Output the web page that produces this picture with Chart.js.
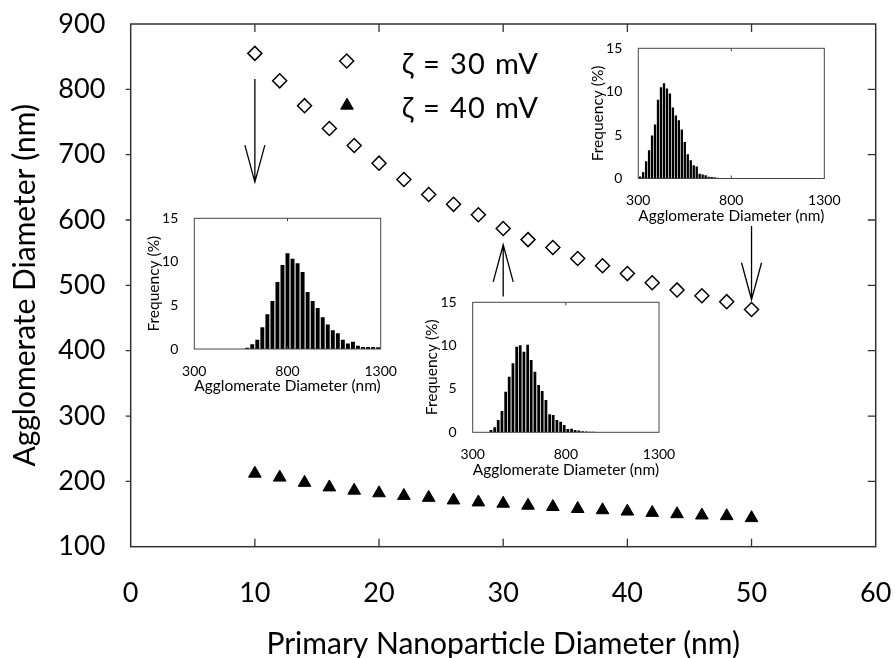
<!DOCTYPE html>
<html><head><meta charset="utf-8">
<script src="https://cdn.jsdelivr.net/npm/chart.js@4.4.1/dist/chart.umd.min.js"></script>
<style>
html,body{margin:0;padding:0;background:#fff;}
#wrap{position:relative;width:895px;height:658px;overflow:hidden;background:#fff;}
#main{position:absolute;left:0;top:0;width:895px;height:658px;}
.inset{position:absolute;}
</style></head><body>
<div id="wrap">
<canvas id="main" width="895" height="658"></canvas>
<canvas id="in10" class="inset"></canvas>
<canvas id="in30" class="inset"></canvas>
<canvas id="in50" class="inset"></canvas>
</div>
<script>
// ---- main chart data ----
const primaryDiameter = [10,12,14,16,18,20,22,24,26,28,30,32,34,36,38,40,42,44,46,48,50];
const agglomerate30mV = [855,813,775,740,714,687,662,639,624,608,587,570,558,541,530,518,504,493,484,475,463];
const agglomerate40mV = [212,206,198,191,186,182,178,175,171,168,166,163,161,158,156,154,152,150,148,147,144];
const seriesLabels = ['\u03B6 = 30 mV', '\u03B6 = 40 mV'];
const xTitle = 'Primary Nanoparticle Diameter (nm)';
const yTitle = 'Agglomerate Diameter (nm)';

// ---- inset histograms (bin centre nm, frequency %) ----
const hist10Bins = [584,611,638,665,692,719,746,773,800,827,854,881,908,935,962,989,1016,1043,1070,1097,1124,1151,1178,1205,1232,1259,1286];
const hist10Freq = [0.15,0.55,1.05,2.5,4.0,5.5,7.7,9.65,11.0,10.35,9.85,8.85,6.55,5.5,4.7,3.65,2.8,2.15,1.8,1.07,0.62,0.84,0.38,0.23,0.23,0.23,0.2];
const hist30Bins = [398,418,437,457,477,496,516,536,555,575,595,614,634,654,673,693,713,732,752,772,791,811,831,850,870,890,910,929,949,969];
const hist30Freq = [0.27,0.58,1.42,2.46,4.69,6.42,7.96,9.88,10.04,9.3,10.1,8.34,6.99,5.46,4.77,3.73,2.08,2.0,1.42,1.22,0.84,0.38,0.4,0.27,0.2,0.12,0.08,0.06,0.05,0.04];
const hist50Bins = [310,326,342,358,374,390,406,422,438,454,470,486,502,518,534,550,566,582,598,614,630,646,662,678,694,710,726,742,758];
const hist50Freq = [0.23,0.73,2.0,3.25,4.94,6.23,9.08,10.5,10.98,10.38,9.8,8.17,7.25,6.71,5.65,4.21,2.79,2.11,1.53,1.38,0.54,0.46,0.37,0.21,0.17,0.13,0.1,0.07,0.05];
const insetXTitle = 'Agglomerate Diameter (nm)';
const insetYTitle = 'Frequency (%)';

// arrows pointing from the insets to the points (data coordinates)
const arrowMarks = [{x:10, from:816, to:658},{x:30, from:483, to:562},{x:50, from:591, to:478}];

const FONT = 'Lato, "Open Sans", sans-serif';

const framePlugin = {
  id:'frame',
  beforeDatasetsDraw(chart){
    const {ctx, chartArea:a, scales:{x,y}} = chart;
    ctx.save();
    ctx.strokeStyle = '#333'; ctx.lineWidth = 1.5;
    ctx.strokeRect(a.left, a.top, a.right-a.left, a.bottom-a.top);
    ctx.lineWidth = 1.3; ctx.beginPath();
    x.ticks.forEach(t=>{
      if (t.value<=x.min || t.value>=x.max) return;
      const px = x.getPixelForValue(t.value);
      ctx.moveTo(px,a.bottom); ctx.lineTo(px,a.bottom-8);
      ctx.moveTo(px,a.top); ctx.lineTo(px,a.top+8);
    });
    y.ticks.forEach(t=>{
      if (t.value<=y.min || t.value>=y.max) return;
      const py = y.getPixelForValue(t.value);
      ctx.moveTo(a.left,py); ctx.lineTo(a.left-5,py);
      ctx.moveTo(a.right,py); ctx.lineTo(a.right-8,py);
    });
    ctx.stroke(); ctx.restore();
  },
  afterDatasetsDraw(chart){
    const {ctx, scales:{x,y}} = chart;
    ctx.save();
    ctx.strokeStyle = '#000'; ctx.lineWidth = 1.3;
    arrowMarks.forEach(m=>{
      const px = x.getPixelForValue(m.x);
      const y0 = y.getPixelForValue(m.from), y1 = y.getPixelForValue(m.to);
      const dir = y1 > y0 ? 1 : -1;
      ctx.beginPath();
      ctx.moveTo(px,y0); ctx.lineTo(px,y1);
      ctx.moveTo(px-10, y1 - dir*37); ctx.lineTo(px,y1); ctx.lineTo(px+10, y1 - dir*37);
      ctx.stroke();
    });
    // legend
    const ds = chart.data.datasets;
    ctx.fillStyle = '#fff'; ctx.strokeStyle = '#000'; ctx.lineWidth = 1.5;
    const dx = 346.7, dy = 61, r = 7;
    ctx.beginPath();
    ctx.moveTo(dx-r,dy); ctx.lineTo(dx,dy-r); ctx.lineTo(dx+r,dy); ctx.lineTo(dx,dy+r); ctx.closePath();
    ctx.fill(); ctx.stroke();
    const tx = 347, ty = 105.5, tr = 7.3;
    ctx.fillStyle = '#000'; ctx.lineWidth = 1;
    ctx.beginPath();
    ctx.moveTo(tx, ty-tr); ctx.lineTo(tx+tr*0.866, ty+tr*0.5); ctx.lineTo(tx-tr*0.866, ty+tr*0.5); ctx.closePath();
    ctx.fill(); ctx.stroke();
    ctx.font = '29px ' + FONT; ctx.textBaseline = 'alphabetic'; ctx.textAlign = 'left';
    try { ctx.letterSpacing = '1.3px'; } catch(e) {}
    ctx.fillText(ds[0].label, 401.7, 74);
    ctx.fillText(ds[1].label, 401.7, 118.3);
    ctx.restore();
  }
};

new Chart(document.getElementById('main'), {
  type:'scatter',
  data:{datasets:[
    {label:seriesLabels[0], data:primaryDiameter.map((v,i)=>({x:v,y:agglomerate30mV[i]})),
     pointStyle:'rectRot', pointRadius:7, pointHoverRadius:7, pointBorderWidth:1.5, borderColor:'#000', backgroundColor:'#fff'},
    {label:seriesLabels[1], data:primaryDiameter.map((v,i)=>({x:v,y:agglomerate40mV[i]})),
     pointStyle:'triangle', pointRadius:7.3, pointHoverRadius:7.3, pointBorderWidth:1, borderColor:'#000', backgroundColor:'#000'}
  ]},
  options:{
    responsive:false, animation:false, devicePixelRatio:1,
    layout:{padding:{top:24,right:19.3,left:0,bottom:0}},
    plugins:{legend:{display:false}, tooltip:{enabled:false}},
    scales:{
      x:{type:'linear', min:0, max:60,
         ticks:{stepSize:10, color:'#000', font:{family:FONT,size:27}, padding:22.7, maxRotation:0},
         grid:{display:false}, border:{display:false},
         title:{display:true, text:xTitle, color:'#000', font:{family:FONT,size:30,lineHeight:0.9}, padding:0},
         afterFit(s){ s.height = 111.3; s.paddingLeft = 0; s.paddingRight = 0; }},
      y:{type:'linear', min:100, max:900,
         ticks:{stepSize:100, color:'#000', font:{family:FONT,size:27}, padding:17.4},
         grid:{display:false}, border:{display:false},
         title:{display:true, text:yTitle, color:'#000', font:{family:FONT,size:30}, padding:{top:7.3,bottom:0}},
         afterFit(s){ s.width = 130.7; s.paddingTop = 0; s.paddingBottom = 0; }}
    }
  },
  plugins:[framePlugin]
});

const insetFrame = {
  id:'insetFrame',
  afterDatasetsDraw(chart){
    const {ctx, chartArea:a, scales:{x}} = chart;
    ctx.save();
    ctx.strokeStyle = '#444'; ctx.lineWidth = 1;
    ctx.strokeRect(a.left, a.top, a.right-a.left, a.bottom-a.top);
    const px = x.getPixelForValue(800);
    ctx.beginPath();
    ctx.moveTo(px,a.top); ctx.lineTo(px,a.top+3);
    ctx.moveTo(px,a.bottom); ctx.lineTo(px,a.bottom-3);
    ctx.stroke(); ctx.restore();
  }
};

function makeInset(id, rect, bins, freq){
  const cl = Math.floor(rect.L - 62), ct = Math.floor(rect.T - 12);
  const cw = Math.ceil(rect.R + 28) - cl, chh = Math.ceil(rect.B + 46) - ct;
  const cv = document.getElementById(id);
  cv.width = cw; cv.height = chh;
  cv.style.left = cl + 'px'; cv.style.top = ct + 'px';
  cv.style.width = cw + 'px'; cv.style.height = chh + 'px';
  const yW = rect.L - cl, padT = rect.T - ct, padR = cl + cw - rect.R, xH = ct + chh - rect.B;
  new Chart(cv, {
    type:'bar',
    data:{datasets:[{data:bins.map((b,i)=>({x:b,y:freq[i]})), backgroundColor:'#000', borderWidth:0,
      barPercentage:0.78, categoryPercentage:1}]},
    options:{
      responsive:false, animation:false, devicePixelRatio:1,
      layout:{padding:{top:padT,right:padR,left:0,bottom:0}},
      plugins:{legend:{display:false}, tooltip:{enabled:false}},
      scales:{
        x:{type:'linear', min:300, max:1300, offset:false,
           ticks:{stepSize:500, color:'#000', font:{family:FONT,size:14}, padding:6, maxRotation:0,
                  callback:v=>String(v)},
           grid:{display:false, offset:false}, border:{display:false},
           title:{display:true, text:insetXTitle, color:'#000', font:{family:FONT,size:15.5}, padding:{top:0,bottom:0}},
           afterFit(s){ s.height = xH; s.paddingLeft = 0; s.paddingRight = 0; }},
        y:{type:'linear', min:0, max:15, beginAtZero:true,
           ticks:{stepSize:5, color:'#000', font:{family:FONT,size:14}, padding:8, callback:v=>String(v)},
           grid:{display:false}, border:{display:false},
           title:{display:true, text:insetYTitle, color:'#000', font:{family:FONT,size:15.5}, padding:{top:12.5,bottom:0}},
           afterFit(s){ s.width = yW; s.paddingTop = 0; s.paddingBottom = 0; }}
      }
    },
    plugins:[insetFrame]
  });
}

makeInset('in10', {L:194.3, R:380.7, T:218.3, B:349}, hist10Bins, hist10Freq);
makeInset('in30', {L:472.7, R:659, T:302.3, B:432.3}, hist30Bins, hist30Freq);
makeInset('in50', {L:638.3, R:824.3, T:48.3, B:178.5}, hist50Bins, hist50Freq);
</script>
</body></html>
